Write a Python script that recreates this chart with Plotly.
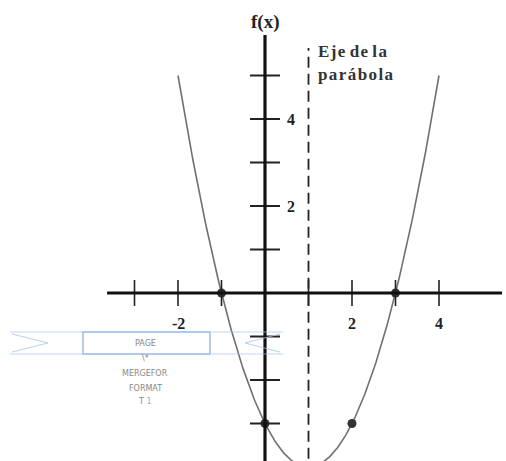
import numpy as np
import plotly.graph_objects as go

# ---- data ----
coef = [1, -2, -3]            # f(x) = x^2 - 2x - 3
x_curve = np.linspace(-2, 4, 241).tolist()
y_curve = [coef[0]*v*v + coef[1]*v + coef[2] for v in x_curve]
pts_x = [-1, 3, 0, 2]
pts_y = [0, 0, -3, -3]
axis_of_symmetry = 1
x_ticks = [-3, -2, -1, 1, 2, 3, 4]
x_tick_labels = {-2: "-2", 2: "2", 4: "4"}
y_ticks = [5, 4, 3, 2, 1, -1, -2, -3]
y_tick_labels = {4: "4", 2: "2"}
x_axis_span = [-3.63, 5.45]
y_axis_span = [-4.2, 5.93]

U = 43.5
def px(p): return (p - 265) / U
def py(p): return (293 - p) / U

fig = go.Figure()
shapes = []
# x axis ticks (vertical)
for t in x_ticks:
    shapes.append(dict(type="line", x0=t, x1=t, y0=py(280), y1=py(306),
                       line=dict(color="#222", width=1.6)))
# y axis ticks (horizontal)
for t in y_ticks:
    shapes.append(dict(type="line", x0=px(250), x1=px(280), y0=t, y1=t,
                       line=dict(color="#222", width=2)))
# axes
shapes.append(dict(type="line", x0=x_axis_span[0], x1=x_axis_span[1], y0=0, y1=0,
                   line=dict(color="#111", width=3)))
shapes.append(dict(type="line", x0=0, x1=0, y0=y_axis_span[0], y1=y_axis_span[1],
                   line=dict(color="#111", width=3.2)))
# axis of symmetry
shapes.append(dict(type="line", x0=axis_of_symmetry, x1=axis_of_symmetry,
                   y0=y_axis_span[0], y1=py(48),
                   line=dict(color="#222", width=1.8, dash="11px,6px")))
# watermark-like box
wb = "rgba(150,180,225,0.9)"
shapes.append(dict(type="rect", x0=px(83), x1=px(210), y0=py(354), y1=py(332),
                   line=dict(color=wb, width=1.5)))
for yy in (332, 354):
    shapes.append(dict(type="line", x0=px(10), x1=px(283), y0=py(yy), y1=py(yy),
                       line=dict(color="rgba(170,195,235,0.7)", width=1)))
shapes.append(dict(type="path",
                   path=f"M {px(12)},{py(334)} L {px(48)},{py(343)} L {px(12)},{py(352)}",
                   line=dict(color="rgba(170,195,235,0.8)", width=1)))
shapes.append(dict(type="path",
                   path=f"M {px(280)},{py(334)} L {px(245)},{py(343)} L {px(280)},{py(352)}",
                   line=dict(color="rgba(170,195,235,0.8)", width=1)))

fig.add_trace(go.Scatter(x=x_curve, y=y_curve, mode="lines",
                         line=dict(color="#707070", width=1.6), hoverinfo="skip"))
fig.add_trace(go.Scatter(x=pts_x, y=pts_y, mode="markers",
                         marker=dict(color="#333", size=9), hoverinfo="skip"))

ann = []
serif = "Liberation Serif"
for t, s in x_tick_labels.items():
    ann.append(dict(x=t, y=py(323), text=f"<b>{s}</b>", showarrow=False,
                    font=dict(family=serif, size=16, color="#222")))
for t, s in y_tick_labels.items():
    ann.append(dict(x=px(291), y=t, text=f"<b>{s}</b>", showarrow=False,
                    font=dict(family=serif, size=16, color="#222")))
ann.append(dict(x=0, y=py(22), text="<b>f(x)</b>", showarrow=False,
                font=dict(family=serif, size=19, color="#222")))
sp = "\u200a"
ann.append(dict(x=px(316), y=py(51), text="<b>" + sp.join("Eje") + " " + sp.join("de") + " " + sp.join("la") + "</b>",
                showarrow=False, xanchor="left",
                font=dict(family=serif, size=17, color="#333")))
ann.append(dict(x=px(316), y=py(74), text="<b>" + sp.join("parábola") + "</b>", showarrow=False,
                xanchor="left", font=dict(family=serif, size=17, color="#333")))
wm = [("PAGE", 343), ("\\*", 358), ("MERGEFOR", 373), ("FORMAT", 388)]
for s, yy in wm:
    ann.append(dict(x=px(145), y=py(yy), text=s, showarrow=False,
                    font=dict(family="DejaVu Sans", size=8, color="#888")))
ann.append(dict(x=px(145), y=py(401), text="T <span style='color:#8fb0e0'>1</span>",
                showarrow=False, font=dict(family="DejaVu Sans", size=8, color="#888")))

fig.update_layout(
    width=506, height=461, margin=dict(l=0, r=0, t=0, b=0),
    paper_bgcolor="white", plot_bgcolor="white", showlegend=False,
    xaxis=dict(range=[px(0), px(506)], visible=False, fixedrange=True),
    yaxis=dict(range=[py(461), py(0)], visible=False, fixedrange=True),
    shapes=shapes, annotations=ann,
)
fig.write_html("out.html", config={"displayModeBar": False},
               post_script="document.body.style.margin='0px';document.body.style.overflow='hidden';")
